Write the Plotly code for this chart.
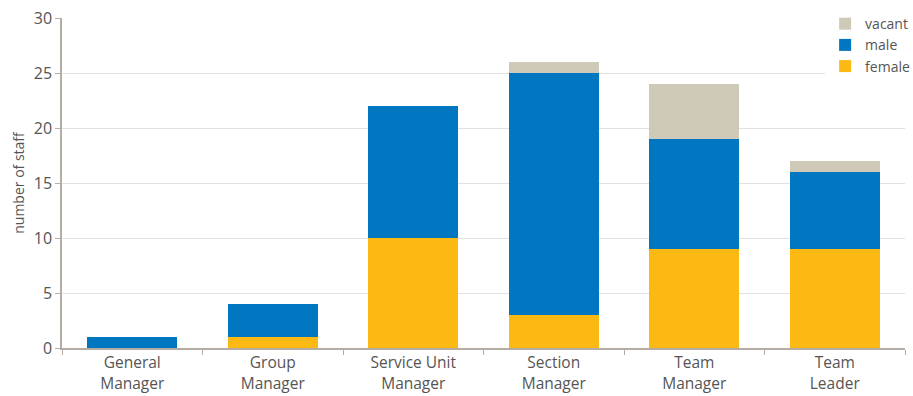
import plotly.graph_objects as go

categories = ["General<br>Manager", "Group<br>Manager", "Service Unit<br>Manager",
              "Section<br>Manager", "Team<br>Manager", "Team<br>Leader"]
female = [0, 1, 10, 3, 9, 9]
male = [1, 3, 12, 22, 10, 7]
vacant = [0, 0, 0, 1, 5, 1]

font_family = "Open Sans, Lato, sans-serif"
text_color = "#555555"
axis_color = "#b3ada5"

fig = go.Figure()
fig.add_trace(go.Bar(name="female", x=categories, y=female, marker_color="#FDB913",
                     marker_line_width=0))
fig.add_trace(go.Bar(name="male", x=categories, y=male, marker_color="#0077C0",
                     marker_line_width=0))
fig.add_trace(go.Bar(name="vacant", x=categories, y=vacant, marker_color="#CFC9B8",
                     marker_line_width=0))

fig.update_layout(
    barmode="stack",
    bargap=0.36,
    width=913, height=396,
    margin=dict(l=62, r=8, t=18, b=48, autoexpand=False),
    plot_bgcolor="white",
    paper_bgcolor="white",
    font=dict(family=font_family, size=15, color=text_color),
    legend=dict(
        traceorder="reversed",
        x=1.012, y=1.03, xanchor="right", yanchor="top",
        bgcolor="white",
        font=dict(size=14, color=text_color),
        itemwidth=30,
        tracegroupgap=0,
    ),
    showlegend=True,
)

fig.update_xaxes(
    tickson="boundaries",
    ticks="outside", ticklen=5, tickcolor=axis_color,
    showline=True, linecolor=axis_color, linewidth=1.5,
    showgrid=False, automargin=False,
    tickfont=dict(size=15.5, color=text_color),
)
fig.update_yaxes(
    range=[0, 30], dtick=5,
    ticks="outside", ticklen=5, tickcolor=axis_color,
    showline=True, linecolor=axis_color, linewidth=1.5,
    showgrid=True, gridcolor="#e2e2e2", gridwidth=1,
    zeroline=False, automargin=False,
    tickfont=dict(size=16, color=text_color),
    title=dict(text="number of staff", font=dict(size=14, color=text_color), standoff=6),
)

fig.write_html("out.html")
